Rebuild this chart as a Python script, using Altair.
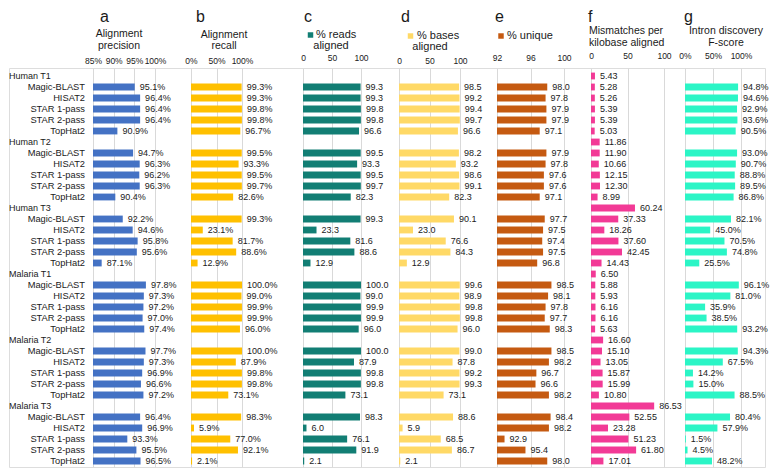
import altair as alt
import pandas as pd

groups = ["Human T1", "Human T2", "Human T3", "Malaria T1", "Malaria T2", "Malaria T3"]
aligners = ["Magic-BLAST", "HISAT2", "STAR 1-pass", "STAR 2-pass", "TopHat2"]

precision = [95.1, 96.4, 96.4, 96.4, 90.9,
             94.7, 96.3, 96.2, 96.3, 90.4,
             92.2, 94.6, 95.8, 95.6, 87.1,
             97.8, 97.3, 97.2, 97.0, 97.4,
             97.7, 97.3, 96.9, 96.6, 97.2,
             96.4, 96.9, 93.3, 95.5, 96.5]
recall = [99.3, 99.3, 99.8, 99.8, 96.7,
          99.5, 93.3, 99.5, 99.7, 82.6,
          99.3, 23.1, 81.7, 88.6, 12.9,
          100.0, 99.0, 99.9, 99.9, 96.0,
          100.0, 87.9, 99.8, 99.8, 73.1,
          98.3, 5.9, 77.0, 92.1, 2.1]
reads_aligned = [99.3, 99.3, 99.8, 99.8, 96.6,
                 99.5, 93.3, 99.5, 99.7, 82.3,
                 99.3, 23.3, 81.6, 88.6, 12.9,
                 100.0, 99.0, 99.9, 99.9, 96.0,
                 100.0, 87.9, 99.8, 99.8, 73.1,
                 98.3, 6.0, 76.1, 91.9, 2.1]
bases_aligned = [98.5, 99.2, 99.4, 99.7, 96.6,
                 98.2, 93.2, 98.6, 99.1, 82.3,
                 90.1, 23.0, 76.6, 84.3, 12.9,
                 99.6, 98.9, 99.8, 99.8, 96.0,
                 99.0, 87.8, 99.2, 99.3, 73.1,
                 88.6, 5.9, 68.5, 86.7, 2.1]
unique = [98.0, 97.8, 97.9, 97.9, 97.1,
          97.9, 97.8, 97.6, 97.6, 97.1,
          97.7, 97.5, 97.4, 97.5, 96.8,
          98.5, 98.1, 97.8, 97.7, 98.3,
          98.5, 98.2, 96.7, 96.6, 98.2,
          98.4, 98.2, 92.9, 95.4, 98.0]
mismatch_truth = [5.43, 11.86, 60.24, 6.50, 16.60, 86.53]
mismatches = [5.28, 5.26, 5.39, 5.39, 5.03,
              11.90, 10.66, 12.15, 12.30, 8.99,
              37.33, 18.26, 37.60, 42.45, 14.43,
              5.88, 5.93, 6.16, 6.16, 5.63,
              15.10, 13.05, 15.87, 15.99, 10.80,
              52.55, 23.28, 51.23, 61.80, 17.01]
intron_f = [94.8, 94.6, 92.9, 93.6, 90.5,
            93.0, 90.7, 88.8, 89.5, 86.8,
            82.1, 45.0, 70.5, 74.8, 25.5,
            96.1, 81.0, 35.9, 38.5, 93.2,
            94.3, 67.5, 14.2, 15.0, 88.5,
            80.4, 57.9, 1.5, 4.5, 48.2]

FONT = "Liberation Sans"
TXT = "#1a1a1a"
H = 399
D0 = -8 / 11
D1 = D0 + H / 11
yscale = alt.Scale(domain=[D0, D1], reverse=True, nice=False, zero=False)


def aligner_rows(vals):
    return [{"row": g * 6 + 1 + k, "v": vals[g * 5 + k]} for g in range(6) for k in range(5)]


def heading(text, x, y, size=10.5, align="center", baseline="middle"):
    return alt.Chart(pd.DataFrame({"t": [text]})).mark_text(
        align=align, baseline=baseline, fontSize=size, font=FONT, color=TXT
    ).encode(x=alt.value(x), y=alt.value(y), text="t:N")


def square(color, x, y):
    return alt.Chart(pd.DataFrame({"t": [0]})).mark_square(
        size=30, color=color, opacity=1
    ).encode(x=alt.value(x), y=alt.value(y))


def panel(rows, domain, ticks, rng, color, decimals, pct, width, pad, heads):
    df = pd.DataFrame(rows)
    xs = alt.Scale(domain=domain, range=[0, rng], nice=False, zero=False)
    lab_axis = "datum.value + '%'" if pct else "'' + datum.value"
    axis = alt.Axis(orient="top", values=ticks, labelExpr=lab_axis, grid=True,
                    gridColor="#d9d9d9", gridWidth=1, domain=False, ticks=False,
                    tickSize=0, labelPadding=pad, labelFontSize=8.5, labelFont=FONT,
                    labelColor=TXT, title=None, labelFlush=False)
    suffix = " + '%'" if pct else ""
    base = alt.Chart(df).transform_calculate(
        y0="datum.row - 0.31",
        y1="datum.row + 0.31",
        base=str(domain[0]),
        label=f"format(datum.v, '.{decimals}f')" + suffix,
    )
    bars = base.mark_bar(color=color).encode(
        x=alt.X("v:Q", scale=xs, axis=axis),
        x2="base:Q",
        y=alt.Y("y0:Q", scale=yscale, axis=None),
        y2="y1:Q",
    )
    text = base.mark_text(align="left", baseline="middle", dx=5, fontSize=9,
                          font=FONT, color=TXT).encode(
        x=alt.X("v:Q", scale=xs, axis=axis),
        y=alt.Y("row:Q", scale=yscale, axis=None),
        text="label:N",
    )
    return alt.layer(bars, text, *heads).properties(width=width, height=H)


def letter(ch, x):
    return heading(ch, x, -46, size=16, align="left", baseline="alphabetic")


# label column
label_rows = []
for g in range(6):
    label_rows.append({"row": g * 6, "name": groups[g], "kind": "group"})
    for k in range(5):
        label_rows.append({"row": g * 6 + 1 + k, "name": aligners[k], "kind": "aligner"})
ldf = pd.DataFrame(label_rows)
lab_base = alt.Chart(ldf)
grp_txt = lab_base.transform_filter("datum.kind == 'group'").mark_text(
    align="left", baseline="middle", fontSize=9, font=FONT, color=TXT
).encode(x=alt.value(0), y=alt.Y("row:Q", scale=yscale, axis=None), text="name:N")
al_txt = lab_base.transform_filter("datum.kind == 'aligner'").mark_text(
    align="right", baseline="middle", fontSize=9.3, font=FONT, color=TXT
).encode(x=alt.value(76), y=alt.Y("row:Q", scale=yscale, axis=None), text="name:N")
labels = alt.layer(grp_txt, al_txt).properties(width=84, height=H)

c_teal = "#127E74"
c_yel = "#FFD966"
c_org = "#C55A11"

pa = panel(aligner_rows(precision), [85, 100], [85, 90, 95, 100], 62, "#4472C4", 1, True, 98, 3,
           [letter("a", 7), heading("Alignment", 26, -34), heading("precision", 26, -22)])
pb = panel(aligner_rows(recall), [0, 100], [0, 50, 100], 51, "#FFC000", 1, True, 112, 3,
           [letter("b", 5), heading("Alignment", 33, -33), heading("recall", 33, -22)])
pc = panel(aligner_rows(reads_aligned), [0, 100], [0, 50, 100], 58, c_teal, 1, False, 96, 6,
           [letter("c", 1), square(c_teal, 7.5, -33), heading("% reads", 13, -33, size=11, align="left"),
            heading("aligned", 28, -22, size=11)])
pd_ = panel(aligner_rows(bases_aligned), [0, 100], [0, 50, 100], 61, c_yel, 1, False, 98, 3,
            [letter("d", 2), square(c_yel, 11.5, -32), heading("% bases", 18, -32, size=11, align="left"),
             heading("aligned", 31, -21, size=11)])
pe = panel(aligner_rows(unique), [92, 100], [92, 96, 100], 67, c_org, 1, False, 94, 6,
           [letter("e", -2), square(c_org, 4, -32), heading("% unique", 10, -32, size=11, align="left")])
f_rows = aligner_rows(mismatches) + [{"row": g * 6, "v": mismatch_truth[g]} for g in range(6)]
pf = panel(f_rows, [0, 100], [0, 50, 100], 73, "#F23A96", 2, False, 94, 8,
           [letter("f", -3), heading("Mismatches per", -2, -37, align="left"),
            heading("kilobase aligned", -2, -25, align="left")])
pg = panel(aligner_rows(intron_f), [0, 100], [0, 50, 100], 56, "#2BF5C6", 1, True, 80, 8,
           [letter("g", -1), heading("Intron discovery", 41, -37), heading("F-score", 41, -25)])

chart = alt.hconcat(labels, pa, pb, pc, pd_, pe, pf, pg, spacing=0, bounds="flush").properties(
    padding={"left": 0, "top": 0, "right": 0, "bottom": 0}
).configure_view(stroke=None).configure(font=FONT)

chart.save("out.html", embed_options={"renderer": "svg", "actions": False})
